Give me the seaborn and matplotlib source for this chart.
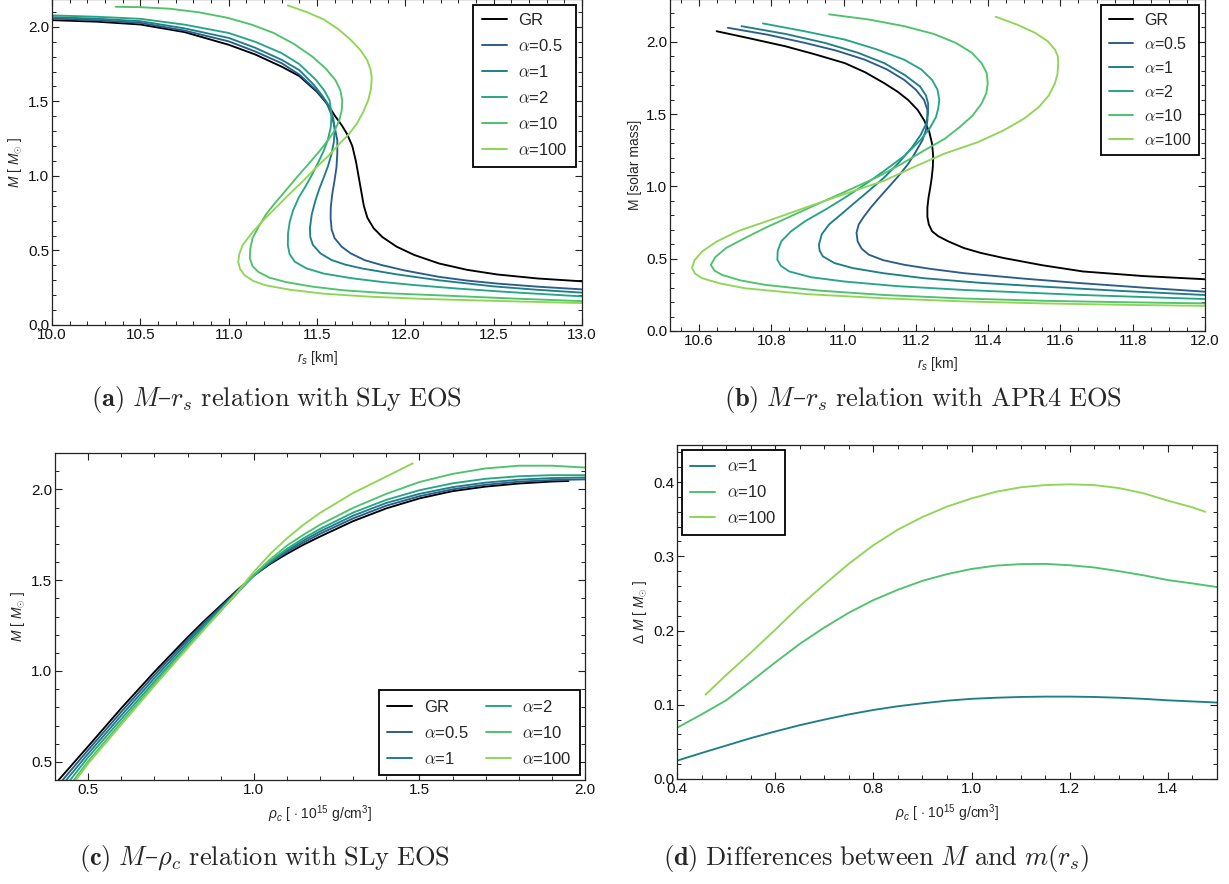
import numpy as np
import pandas as pd
import matplotlib
matplotlib.use("Agg")
import matplotlib.pyplot as plt
import seaborn as sns
from matplotlib.ticker import MultipleLocator

# ---------------- data ----------------
labels = ["GR", "α=0.5", "α=1", "α=2", "α=10", "α=100"]
legend_labels = ["GR", r"$\alpha$=0.5", r"$\alpha$=1", r"$\alpha$=2", r"$\alpha$=10", r"$\alpha$=100"]
colors = ["#000000", "#2b5d8c", "#1f7f86", "#27a586", "#4ec26c", "#8fd657"]

# (a) M - r_s, SLy EOS   (r_s [km], M [Msun])
a_GR_r = [10.0, 10.25, 10.5, 10.75, 11.0, 11.15, 11.30, 11.40, 11.50, 11.56, 11.60, 11.64, 11.67, 11.70, 11.72, 11.735, 11.75, 11.765, 11.785, 11.82, 11.87, 11.95, 12.05, 12.19, 12.35, 12.52, 12.75, 13.0]
a_GR_M = [2.045, 2.035, 2.016, 1.965, 1.88, 1.815, 1.733, 1.67, 1.564, 1.48, 1.406, 1.34, 1.282, 1.20, 1.10, 1.00, 0.90, 0.80, 0.72, 0.650, 0.59, 0.526, 0.47, 0.413, 0.37, 0.339, 0.312, 0.293]
a_05_r = [10.0, 10.25, 10.5, 10.75, 11.0, 11.15, 11.30, 11.40, 11.495, 11.55, 11.58, 11.60, 11.615, 11.615, 11.61, 11.598, 11.586, 11.578, 11.577, 11.583, 11.60, 11.64, 11.69, 11.77, 11.866, 12.0, 12.19, 12.35, 12.52, 12.75, 13.0]
a_05_M = [2.056, 2.045, 2.027, 1.975, 1.903, 1.835, 1.756, 1.68, 1.576, 1.50, 1.418, 1.33, 1.237, 1.15, 1.056, 0.96, 0.876, 0.79, 0.718, 0.64, 0.582, 0.525, 0.481, 0.435, 0.402, 0.365, 0.323, 0.298, 0.278, 0.257, 0.239]
a_1_r = [10.0, 10.25, 10.5, 10.75, 11.0, 11.15, 11.30, 11.40, 11.484, 11.535, 11.571, 11.592, 11.60, 11.595, 11.582, 11.562, 11.538, 11.512, 11.49, 11.47, 11.46, 11.462, 11.477, 11.52, 11.582, 11.66, 11.756, 11.95, 12.19, 12.5, 12.75, 13.0]
a_1_M = [2.065, 2.055, 2.038, 1.99, 1.926, 1.86, 1.779, 1.71, 1.609, 1.53, 1.463, 1.385, 1.305, 1.225, 1.147, 1.065, 0.989, 0.91, 0.831, 0.74, 0.650, 0.59, 0.537, 0.48, 0.436, 0.405, 0.379, 0.34, 0.300, 0.259, 0.236, 0.217]
a_2_r = [10.0, 10.25, 10.5, 10.75, 11.0, 11.15, 11.30, 11.40, 11.495, 11.54, 11.571, 11.582, 11.578, 11.562, 11.538, 11.507, 11.473, 11.435, 11.396, 11.365, 11.346, 11.336, 11.335, 11.345, 11.375, 11.44, 11.538, 11.70, 11.866, 12.05, 12.30, 12.6, 13.0]
a_2_M = [2.077, 2.068, 2.054, 2.015, 1.959, 1.90, 1.824, 1.75, 1.643, 1.575, 1.508, 1.42, 1.327, 1.245, 1.169, 1.09, 1.011, 0.93, 0.853, 0.77, 0.695, 0.615, 0.537, 0.475, 0.424, 0.38, 0.345, 0.313, 0.289, 0.268, 0.244, 0.22, 0.192]
a_10_r = [10.36, 10.5, 10.665, 10.83, 10.993, 11.13, 11.255, 11.37, 11.473, 11.55, 11.604, 11.632, 11.643, 11.64, 11.626, 11.598, 11.56, 11.51, 11.451, 11.385, 11.32, 11.26, 11.21, 11.17, 11.135, 11.122, 11.12, 11.135, 11.167, 11.23, 11.32, 11.47, 11.647, 11.9, 12.19, 12.6, 13.0]
a_10_M = [2.135, 2.132, 2.122, 2.098, 2.061, 2.015, 1.959, 1.885, 1.801, 1.72, 1.643, 1.575, 1.508, 1.44, 1.372, 1.30, 1.237, 1.16, 1.079, 0.99, 0.898, 0.815, 0.740, 0.66, 0.582, 0.51, 0.447, 0.395, 0.357, 0.318, 0.289, 0.258, 0.233, 0.213, 0.199, 0.178, 0.160]
a_100_r = [11.335, 11.44, 11.538, 11.62, 11.69, 11.745, 11.783, 11.803, 11.81, 11.805, 11.79, 11.762, 11.725, 11.68, 11.626, 11.565, 11.495, 11.42, 11.342, 11.265, 11.19, 11.13, 11.08, 11.06, 11.054, 11.065, 11.09, 11.14, 11.21, 11.35, 11.538, 11.8, 12.08, 12.5, 13.0]
a_100_M = [2.144, 2.10, 2.05, 1.985, 1.914, 1.845, 1.779, 1.715, 1.655, 1.58, 1.508, 1.43, 1.35, 1.28, 1.214, 1.135, 1.056, 0.965, 0.876, 0.785, 0.695, 0.615, 0.537, 0.475, 0.424, 0.375, 0.334, 0.295, 0.266, 0.236, 0.210, 0.19, 0.176, 0.162, 0.147]

# (b) M - r_s, APR4 EOS
b_GR_r = [10.649, 10.74, 10.839, 10.92, 11.004, 11.06, 11.113, 11.15, 11.179, 11.205, 11.223, 11.237, 11.245, 11.248, 11.247, 11.244, 11.24, 11.235, 11.232, 11.232, 11.236, 11.245, 11.262, 11.29, 11.333, 11.38, 11.443, 11.55, 11.662, 11.83, 12.0]
b_GR_M = [2.074, 2.025, 1.970, 1.915, 1.853, 1.79, 1.714, 1.655, 1.598, 1.53, 1.458, 1.38, 1.295, 1.21, 1.133, 1.06, 0.993, 0.92, 0.853, 0.79, 0.737, 0.69, 0.656, 0.62, 0.574, 0.54, 0.505, 0.455, 0.412, 0.38, 0.358]
b_05_r = [10.68, 10.79, 10.894, 10.98, 11.059, 11.12, 11.168, 11.20, 11.223, 11.232, 11.232, 11.228, 11.218, 11.20, 11.179, 11.153, 11.124, 11.098, 11.075, 11.056, 11.042, 11.036, 11.039, 11.05, 11.07, 11.11, 11.168, 11.24, 11.333, 11.5, 11.662, 11.83, 12.0]
b_05_M = [2.098, 2.05, 1.993, 1.94, 1.877, 1.81, 1.737, 1.67, 1.598, 1.53, 1.458, 1.39, 1.319, 1.24, 1.156, 1.075, 0.993, 0.92, 0.853, 0.79, 0.737, 0.68, 0.621, 0.57, 0.528, 0.49, 0.458, 0.43, 0.400, 0.362, 0.330, 0.30, 0.272]
b_1_r = [10.718, 10.84, 10.949, 11.04, 11.113, 11.17, 11.212, 11.228, 11.234, 11.234, 11.229, 11.213, 11.19, 11.155, 11.113, 11.07, 11.026, 10.99, 10.96, 10.94, 10.932, 10.934, 10.943, 10.975, 11.026, 11.11, 11.223, 11.38, 11.552, 11.77, 12.0]
b_1_M = [2.109, 2.055, 1.993, 1.925, 1.853, 1.77, 1.691, 1.63, 1.574, 1.51, 1.435, 1.355, 1.272, 1.17, 1.063, 0.97, 0.877, 0.80, 0.737, 0.67, 0.598, 0.555, 0.516, 0.47, 0.435, 0.40, 0.365, 0.333, 0.307, 0.277, 0.249]
b_2_r = [10.777, 10.89, 11.004, 11.09, 11.168, 11.215, 11.245, 11.26, 11.265, 11.262, 11.256, 11.238, 11.212, 11.17, 11.113, 11.06, 11.004, 10.95, 10.894, 10.855, 10.828, 10.818, 10.817, 10.827, 10.85, 10.91, 11.004, 11.15, 11.333, 11.65, 12.0]
b_2_M = [2.128, 2.075, 2.016, 1.95, 1.877, 1.81, 1.737, 1.67, 1.598, 1.54, 1.481, 1.40, 1.319, 1.215, 1.109, 1.015, 0.923, 0.84, 0.760, 0.69, 0.621, 0.555, 0.493, 0.45, 0.412, 0.372, 0.342, 0.31, 0.284, 0.25, 0.221]
b_10_r = [10.96, 11.07, 11.168, 11.25, 11.311, 11.355, 11.382, 11.396, 11.399, 11.395, 11.382, 11.357, 11.322, 11.28, 11.223, 11.16, 11.092, 11.01, 10.927, 10.855, 10.784, 10.725, 10.675, 10.645, 10.633, 10.643, 10.664, 10.715, 10.784, 10.93, 11.113, 11.33, 11.552, 11.78, 12.0]
b_10_M = [2.191, 2.155, 2.109, 2.055, 1.993, 1.925, 1.853, 1.785, 1.714, 1.645, 1.574, 1.49, 1.412, 1.33, 1.249, 1.155, 1.063, 0.97, 0.877, 0.795, 0.714, 0.64, 0.574, 0.51, 0.458, 0.418, 0.388, 0.35, 0.319, 0.28, 0.249, 0.225, 0.209, 0.199, 0.191]
b_100_r = [11.421, 11.48, 11.53, 11.565, 11.585, 11.593, 11.594, 11.592, 11.585, 11.568, 11.541, 11.50, 11.443, 11.37, 11.278, 11.195, 11.113, 11.0, 10.894, 10.8, 10.708, 10.65, 10.609, 10.588, 10.581, 10.59, 10.609, 10.66, 10.729, 10.9, 11.113, 11.33, 11.552, 11.78, 12.0]
b_100_M = [2.174, 2.12, 2.063, 2.005, 1.947, 1.90, 1.853, 1.78, 1.714, 1.63, 1.551, 1.47, 1.388, 1.305, 1.226, 1.135, 1.040, 0.945, 0.853, 0.77, 0.691, 0.62, 0.551, 0.49, 0.435, 0.395, 0.365, 0.328, 0.295, 0.255, 0.226, 0.205, 0.191, 0.181, 0.174]

# (c) M - rho_c, SLy EOS   (rho_c [1e15 g/cm^3], M [Msun])
c_GR_rho = [0.411, 0.5, 0.6, 0.7, 0.8, 0.85, 0.9, 0.95, 1.0, 1.05, 1.1, 1.15, 1.2, 1.3, 1.4, 1.5, 1.6, 1.7, 1.8, 1.9, 1.95]
c_GR_M = [0.40, 0.585, 0.795, 0.995, 1.185, 1.275, 1.36, 1.445, 1.525, 1.59, 1.645, 1.695, 1.74, 1.825, 1.895, 1.95, 1.99, 2.015, 2.032, 2.043, 2.046]
c_05_rho = [0.423, 0.5, 0.6, 0.7, 0.8, 0.85, 0.9, 0.95, 1.0, 1.05, 1.1, 1.15, 1.2, 1.3, 1.4, 1.5, 1.6, 1.7, 1.8, 1.9, 2.0]
c_05_M = [0.40, 0.565, 0.775, 0.978, 1.172, 1.265, 1.352, 1.44, 1.525, 1.595, 1.655, 1.707, 1.755, 1.84, 1.91, 1.962, 2.0, 2.025, 2.042, 2.051, 2.055]
c_1_rho = [0.434, 0.5, 0.6, 0.7, 0.8, 0.85, 0.9, 0.95, 1.0, 1.05, 1.1, 1.15, 1.2, 1.3, 1.4, 1.5, 1.6, 1.7, 1.8, 1.9, 2.0]
c_1_M = [0.40, 0.545, 0.755, 0.96, 1.158, 1.253, 1.344, 1.435, 1.525, 1.60, 1.663, 1.718, 1.768, 1.855, 1.925, 1.975, 2.012, 2.037, 2.053, 2.062, 2.065]
c_2_rho = [0.446, 0.5, 0.6, 0.7, 0.8, 0.85, 0.9, 0.95, 1.0, 1.05, 1.1, 1.15, 1.2, 1.3, 1.4, 1.5, 1.6, 1.7, 1.8, 1.9, 2.0]
c_2_M = [0.40, 0.525, 0.735, 0.942, 1.143, 1.24, 1.335, 1.43, 1.525, 1.605, 1.672, 1.73, 1.782, 1.872, 1.942, 1.995, 2.033, 2.058, 2.072, 2.078, 2.078]
c_10_rho = [0.457, 0.5, 0.6, 0.7, 0.8, 0.85, 0.9, 0.95, 1.0, 1.05, 1.1, 1.15, 1.2, 1.3, 1.4, 1.5, 1.6, 1.7, 1.8, 1.9, 2.0]
c_10_M = [0.40, 0.503, 0.717, 0.928, 1.132, 1.232, 1.33, 1.428, 1.53, 1.615, 1.69, 1.75, 1.805, 1.898, 1.975, 2.04, 2.085, 2.115, 2.13, 2.13, 2.12]
c_100_rho = [0.463, 0.5, 0.6, 0.7, 0.8, 0.85, 0.9, 0.95, 1.0, 1.05, 1.1, 1.15, 1.2, 1.3, 1.4, 1.48]
c_100_M = [0.40, 0.49, 0.705, 0.918, 1.125, 1.228, 1.33, 1.435, 1.545, 1.645, 1.73, 1.805, 1.87, 1.98, 2.07, 2.143]

# (d) Delta M vs rho_c
d_labels = ["α=1", "α=10", "α=100"]
d_1_rho = [0.40, 0.45, 0.50, 0.55, 0.60, 0.65, 0.70, 0.75, 0.80, 0.85, 0.90, 0.95, 1.0, 1.05, 1.1, 1.15, 1.2, 1.25, 1.3, 1.35, 1.4, 1.45, 1.5]
d_1_dM = [0.0247, 0.035, 0.045, 0.055, 0.064, 0.0725, 0.080, 0.087, 0.093, 0.098, 0.102, 0.1055, 0.108, 0.1095, 0.1105, 0.111, 0.111, 0.1105, 0.1095, 0.108, 0.106, 0.1045, 0.103]
d_10_rho = [0.40, 0.45, 0.50, 0.55, 0.60, 0.65, 0.70, 0.75, 0.80, 0.85, 0.90, 0.95, 1.0, 1.05, 1.1, 1.15, 1.2, 1.25, 1.3, 1.35, 1.4, 1.45, 1.5]
d_10_dM = [0.069, 0.087, 0.106, 0.131, 0.157, 0.182, 0.204, 0.224, 0.241, 0.255, 0.267, 0.276, 0.283, 0.2875, 0.2895, 0.2898, 0.288, 0.285, 0.280, 0.2745, 0.268, 0.2635, 0.2586]
d_100_rho = [0.458, 0.50, 0.55, 0.60, 0.65, 0.70, 0.75, 0.80, 0.85, 0.90, 0.95, 1.0, 1.05, 1.1, 1.15, 1.2, 1.25, 1.3, 1.35, 1.4, 1.45, 1.476]
d_100_dM = [0.1136, 0.140, 0.170, 0.201, 0.233, 0.262, 0.290, 0.315, 0.336, 0.353, 0.367, 0.378, 0.387, 0.393, 0.396, 0.397, 0.396, 0.392, 0.385, 0.375, 0.366, 0.360]

# ---------------- style ----------------
sns.set_theme(style="ticks")
plt.rcParams.update({
    "font.family": ["Liberation Sans", "DejaVu Sans"],
    "mathtext.fontset": "custom",
    "mathtext.rm": "Liberation Sans",
    "mathtext.it": "Liberation Sans:italic",
    "mathtext.bf": "Liberation Sans:bold",
    "axes.edgecolor": "#222222",
    "axes.linewidth": 0.9,
    "xtick.color": "#222222",
    "ytick.color": "#222222",
    "xtick.labelcolor": "#111111",
    "ytick.labelcolor": "#111111",
})

W, H = 1229, 884
fig = plt.figure(figsize=(W / 100, H / 100), dpi=100)


def add_ax(left, right, top, bottom):
    return fig.add_axes([left / W, 1 - bottom / H, (right - left) / W, (bottom - top) / H])


def build_df(rs, ms, names):
    frames = []
    for x, y, n in zip(rs, ms, names):
        frames.append(pd.DataFrame({"x": x, "y": y, "model": n}))
    return pd.concat(frames, ignore_index=True)


def draw(ax, df, names, cols):
    sns.lineplot(data=df, x="x", y="y", hue="model", hue_order=names,
                 palette=dict(zip(names, cols)), sort=False, estimator=None,
                 units="model", linewidth=1.35, ax=ax, legend=False)


def style_ax(ax, xmaj, xmin, ymaj, ymin):
    ax.xaxis.set_major_locator(MultipleLocator(xmaj))
    ax.xaxis.set_minor_locator(MultipleLocator(xmin))
    ax.yaxis.set_major_locator(MultipleLocator(ymaj))
    ax.yaxis.set_minor_locator(MultipleLocator(ymin))
    ax.tick_params(which="both", direction="in", top=True, right=True, labelsize=11, pad=2)
    ax.tick_params(which="major", length=5, width=0.8)
    ax.tick_params(which="minor", length=2.8, width=0.7)
    ax.xaxis.labelpad = 5
    ax.yaxis.labelpad = 3
    for s in ax.spines.values():
        s.set_visible(True)


def make_legend(ax, names_tex, cols, fs=12, ls=0.6, **kw):
    handles = [plt.Line2D([], [], color=c, lw=1.4) for c in cols]
    leg = ax.legend(handles, names_tex, frameon=True, fancybox=False, framealpha=1,
                    edgecolor="black", fontsize=fs, handlelength=1.5, handletextpad=0.7,
                    labelspacing=ls, borderpad=0.5, **kw)
    leg.get_frame().set_linewidth(1.3)
    for t in leg.get_texts():
        t.set_math_fontfamily("cm")
    return leg


# panel (a)
ax = add_ax(52, 582, -1, 325)
df = build_df([a_GR_r, a_05_r, a_1_r, a_2_r, a_10_r, a_100_r],
              [a_GR_M, a_05_M, a_1_M, a_2_M, a_10_M, a_100_M], labels)
draw(ax, df, labels, colors)
ax.set_xlim(10.0, 13.0)
ax.set_ylim(0.0, 2.187)
style_ax(ax, 0.5, 0.1, 0.5, 0.1)
ax.set_xlabel(r"$r_s$ [km]", fontsize=10)
ax.set_ylabel(r"$M$ [ $M_{\odot}$ ]", fontsize=10)
make_legend(ax, legend_labels, colors, loc="upper right", borderaxespad=0.35)

# panel (b)
ax = add_ax(670, 1205, -1, 331)
df = build_df([b_GR_r, b_05_r, b_1_r, b_2_r, b_10_r, b_100_r],
              [b_GR_M, b_05_M, b_1_M, b_2_M, b_10_M, b_100_M], labels)
draw(ax, df, labels, colors)
ax.set_xlim(10.52, 12.0)
ax.set_ylim(0.0, 2.297)
style_ax(ax, 0.2, 0.05, 0.5, 0.1)
ax.set_xlabel(r"$r_s$ [km]", fontsize=10)
ax.set_ylabel("M [solar mass]", fontsize=10)
make_legend(ax, legend_labels, colors, fs=11.5, ls=0.5, loc="upper right", borderaxespad=0.35)

# panel (c)
ax = add_ax(55, 585, 453, 780)
df = build_df([c_GR_rho, c_05_rho, c_1_rho, c_2_rho, c_10_rho, c_100_rho],
              [c_GR_M, c_05_M, c_1_M, c_2_M, c_10_M, c_100_M], labels)
draw(ax, df, labels, colors)
ax.set_xlim(0.4, 2.0)
ax.set_ylim(0.4, 2.2)
style_ax(ax, 0.5, 0.1, 0.5, 0.1)
ax.set_xlabel(r"$\rho_c$ [ $\cdot$ 10$^{15}$ g/cm$^3$]", fontsize=10)
ax.set_ylabel(r"$M$ [ $M_{\odot}$ ]", fontsize=10)
make_legend(ax, legend_labels, colors, loc="lower right", ncol=2,
            columnspacing=1.0, borderaxespad=0.3)

# panel (d)
ax = add_ax(677, 1217, 445, 779)
d_cols = [colors[2], colors[4], colors[5]]
df = build_df([d_1_rho, d_10_rho, d_100_rho], [d_1_dM, d_10_dM, d_100_dM], d_labels)
draw(ax, df, d_labels, d_cols)
ax.set_xlim(0.4, 1.5)
ax.set_ylim(0.0, 0.45)
style_ax(ax, 0.2, 0.05, 0.1, 0.02)
ax.set_xlabel(r"$\rho_c$ [ $\cdot$ 10$^{15}$ g/cm$^3$]", fontsize=10)
ax.set_ylabel(r"$\Delta$ $M$ [ $M_{\odot}$ ]", fontsize=10)
make_legend(ax, [r"$\alpha$=1", r"$\alpha$=10", r"$\alpha$=100"], d_cols,
            loc="upper left", borderaxespad=0.3)

# captions
cap_kw = dict(ha="center", va="center", fontsize=19, family="DejaVu Serif", math_fontfamily="cm")
fig.text(276 / W, 1 - 400 / H, r"$\mathbf{(a)}\ M$–$r_s\ \mathrm{relation\ with\ SLy\ EOS}$", **cap_kw)
fig.text(923 / W, 1 - 400 / H, r"$\mathbf{(b)}\ M$–$r_s\ \mathrm{relation\ with\ APR4\ EOS}$", **cap_kw)
fig.text(264 / W, 1 - 858 / H, r"$\mathbf{(c)}\ M$–$\rho_c\ \mathrm{relation\ with\ SLy\ EOS}$", **cap_kw)
fig.text(876 / W, 1 - 858 / H, r"$\mathbf{(d)}\ \mathrm{Differences\ between}\ M\ \mathrm{and}\ m(r_s)$", **cap_kw)

fig.savefig("out.png", dpi=100, facecolor="white")
